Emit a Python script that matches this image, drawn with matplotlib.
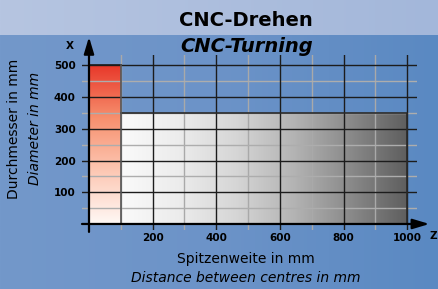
import numpy as np
import matplotlib.pyplot as plt
from matplotlib.colors import LinearSegmentedColormap

# working envelope (mm)
red_zone = {'z': (0, 100), 'x': (0, 500)}
gray_zone = {'z': (100, 1000), 'x': (0, 350)}

x_ticks = [200, 400, 600, 800, 1000]
y_ticks = [100, 200, 300, 400, 500]
x_minor = [100, 300, 500, 700, 900]
y_minor = [50, 150, 250, 350, 450]

W, H = 439, 289
fig = plt.figure(figsize=(W / 100, H / 100), dpi=100)

# background
bg = fig.add_axes([0, 0, 1, 1], zorder=-10)
bg.set_axis_off()
cols = np.linspace(0, 1, 200)
top = np.outer(np.ones(2), cols)
bg_cmap = LinearSegmentedColormap.from_list('bg', ['#7398ca', '#6c93c8', '#5a89c2'])
band_cmap = LinearSegmentedColormap.from_list('band', ['#b6c5e1', '#a3b7da'])
bg.imshow(top, cmap=bg_cmap, extent=[0, W, 0, H - 35], aspect='auto')
bg.imshow(top, cmap=band_cmap, extent=[0, W, H - 35, H], aspect='auto')
bg.set_xlim(0, W)
bg.set_ylim(0, H)

# main axes
ax = fig.add_axes([82 / W, (H - 230) / H, 335 / W, 175 / H])
ax.set_facecolor('none')
ax.set_xlim(-22, 1031)
ax.set_ylim(-19, 533)

red_cmap = LinearSegmentedColormap.from_list('red', ['#fff8f5', '#fdc8b4', '#f7906e', '#e8382a'])
grad_v = np.linspace(0, 1, 256).reshape(-1, 1)
ax.imshow(grad_v, cmap=red_cmap, origin='lower', aspect='auto',
          extent=[*red_zone['z'], *red_zone['x']], zorder=1)

gray_cmap = LinearSegmentedColormap.from_list(
    'gray', ['#fafafa', '#ececec', '#d6d6d6', '#b4b4b4', '#8a8a8a', '#5e5e5e'])
grad_h = np.linspace(0, 1, 256).reshape(1, -1)
ax.imshow(grad_h, cmap=gray_cmap, origin='lower', aspect='auto',
          extent=[*gray_zone['z'], *gray_zone['x']], zorder=1)

# grid
for v in x_minor:
    ax.axvline(v, color='#a9a9a9', lw=1, zorder=2)
for v in y_minor:
    ax.axhline(v, color='#adadad', lw=1, zorder=2)
for v in x_ticks:
    ax.axvline(v, color='#1c1c1c', lw=1, zorder=3)
for v in y_ticks:
    ax.axhline(v, color='#1c1c1c', lw=1, zorder=3)
ax.plot([100, 1000, 1000], [350, 350, 0], color='#2a2a2a', lw=1.2, zorder=3)
ax.plot([0, 100], [500, 500], color='#1c1c1c', lw=1.2, zorder=3)
ax.plot([100, 100], [0, 500], color='#555555', lw=1.2, zorder=3)

# axes with arrows
ax.annotate('', xy=(1070, 0), xytext=(-22, 0), annotation_clip=False,
            arrowprops=dict(arrowstyle='-|>,head_length=1.0,head_width=0.3',
                            lw=1.6, color='black', mutation_scale=10,
                            shrinkA=0, shrinkB=0), zorder=5)
ax.annotate('', xy=(0, 590), xytext=(0, -25), annotation_clip=False,
            arrowprops=dict(arrowstyle='-|>,head_length=1.0,head_width=0.3',
                            lw=1.6, color='black', mutation_scale=10,
                            shrinkA=0, shrinkB=0), zorder=5)

for s in ax.spines.values():
    s.set_visible(False)
ax.set_xticks(x_ticks)
ax.set_yticks(y_ticks)
ax.set_xticklabels([str(t) for t in x_ticks], fontweight='bold')
ax.set_yticklabels([str(t) for t in y_ticks], fontweight='bold')
ax.tick_params(axis='x', length=0, pad=2.5, labelsize=7.5, colors='black')
ax.tick_params(axis='y', length=0, pad=4.5, labelsize=7.5, colors='black')

def px(x, y):
    return x / W, 1 - y / H

fig.text(*px(70, 46), 'X', fontsize=7.5, fontweight='bold', ha='center', va='center')
fig.text(*px(433.5, 236), 'Z', fontsize=7.5, fontweight='bold', ha='center', va='center')

fig.text(*px(246, 26), 'CNC-Drehen', fontsize=14, fontweight='bold', ha='center', va='baseline')
fig.text(*px(247, 52), 'CNC-Turning', fontsize=14, fontweight='bold', style='italic',
         ha='center', va='baseline')
fig.text(*px(246, 263.5), 'Spitzenweite in mm', fontsize=10, ha='center', va='baseline')
fig.text(*px(246, 281.5), 'Distance between centres in mm', fontsize=10, style='italic',
         ha='center', va='baseline')
fig.text(*px(14, 129), 'Durchmesser in mm', fontsize=10, rotation=90, ha='center', va='center')
fig.text(*px(35, 128), 'Diameter in mm', fontsize=10, style='italic', rotation=90,
         ha='center', va='center')

fig.savefig('out.png', dpi=100)
